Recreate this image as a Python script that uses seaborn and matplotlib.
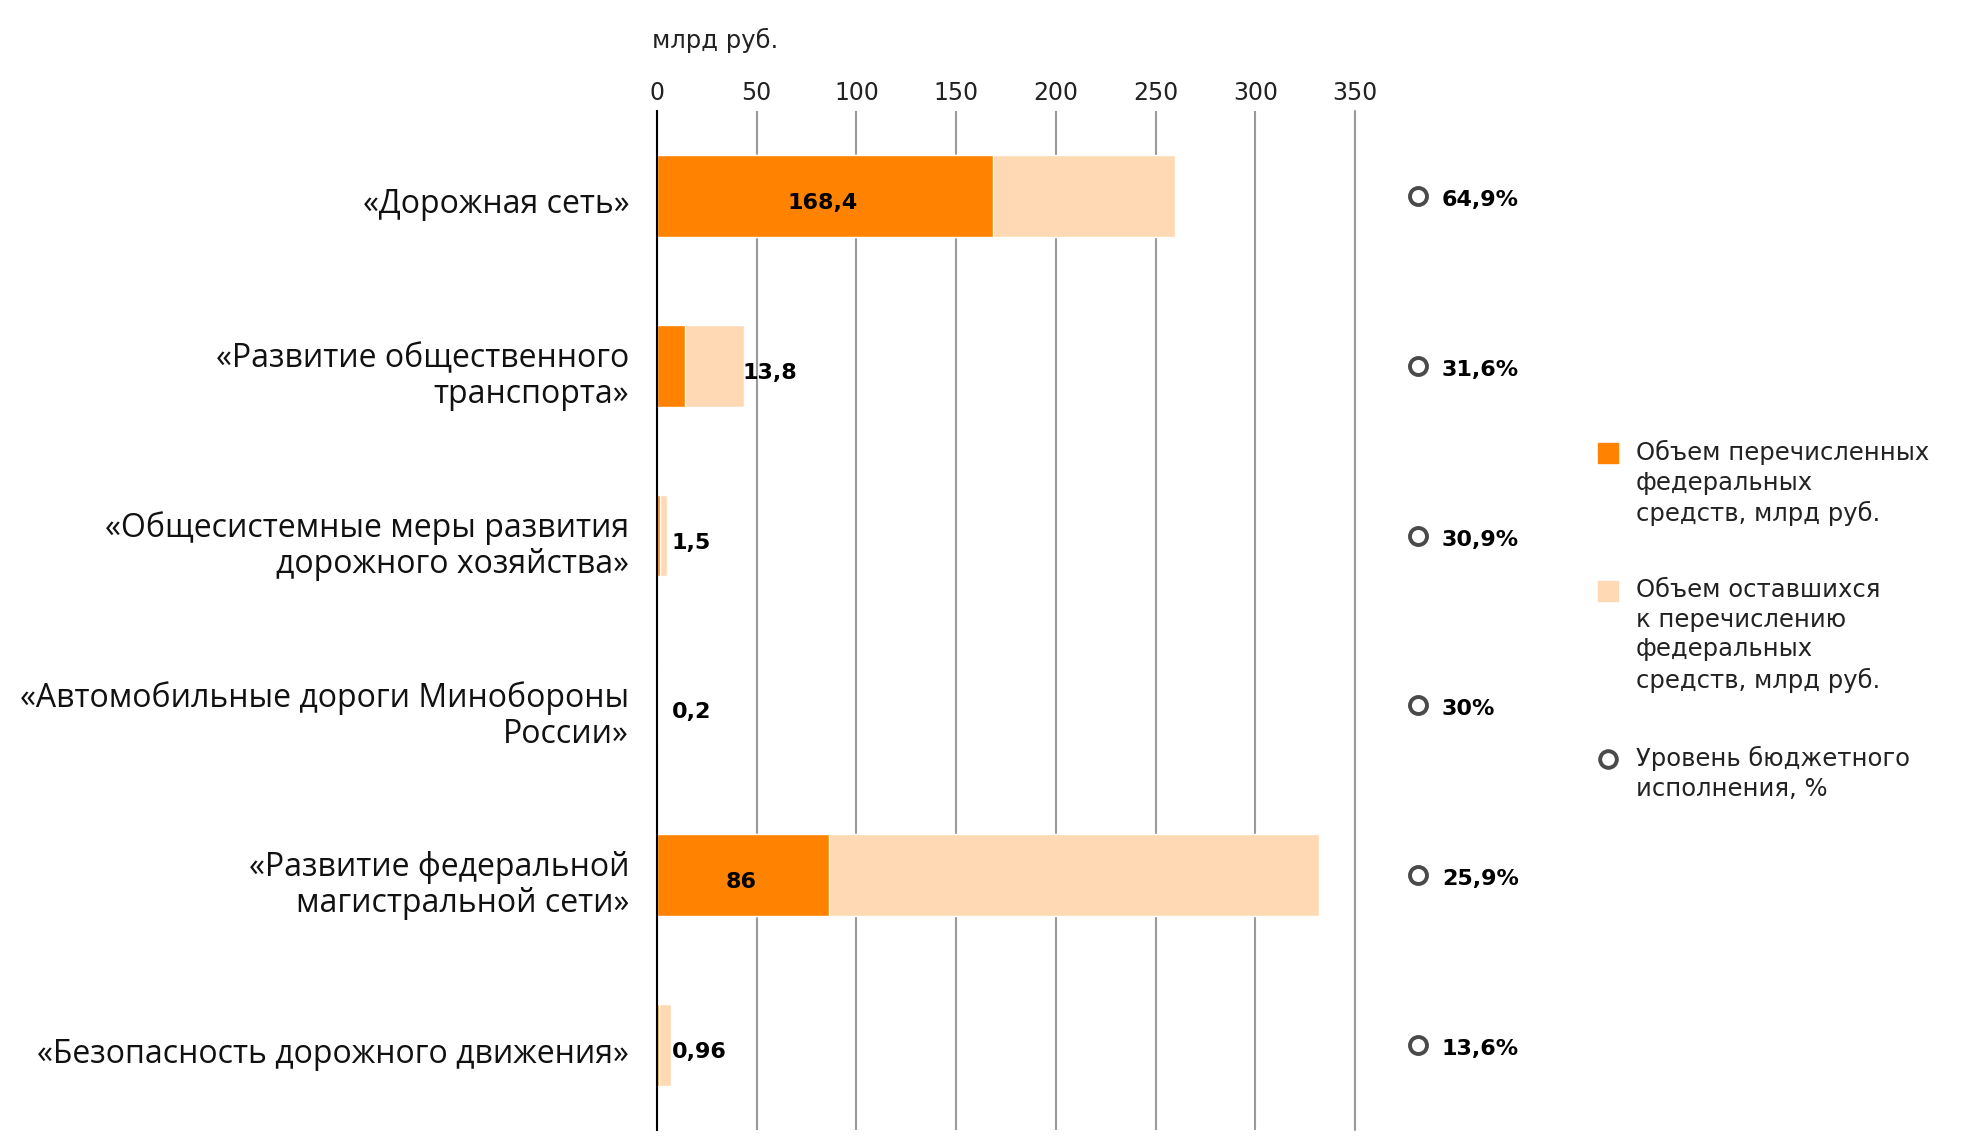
import pandas as pd
import matplotlib.pyplot as plt
import seaborn as sns
from matplotlib.patches import Rectangle
from matplotlib.lines import Line2D
from matplotlib.transforms import blended_transform_factory, ScaledTranslation

# Data
categories = [
    "«Дорожная сеть»",
    "«Развитие общественного\nтранспорта»",
    "«Общесистемные меры развития\nдорожного хозяйства»",
    "«Автомобильные дороги Минобороны\nРоссии»",
    "«Развитие федеральной\nмагистральной сети»",
    "«Безопасность дорожного движения»",
]
transferred = [168.4, 13.8, 1.5, 0.2, 86.0, 0.96]
total = [259.5, 43.7, 4.85, 0.67, 332.0, 7.06]
execution = [64.9, 31.6, 30.9, 30.0, 25.9, 13.6]
value_labels = ["168,4", "13,8", "1,5", "0,2", "86", "0,96"]
pct_labels = ["64,9%", "31,6%", "30,9%", "30%", "25,9%", "13,6%"]
x_ticks = [0, 50, 100, 150, 200, 250, 300, 350]

legend_labels = [
    "Объем перечисленных\nфедеральных\nсредств, млрд руб.",
    "Объем оставшихся\nк перечислению\nфедеральных\nсредств, млрд руб.",
    "Уровень бюджетного\nисполнения, %",
]

ORANGE = "#ff8300"
LIGHT = "#ffd9b3"
RING = "#4a4a4a"

df = pd.DataFrame({"category": categories, "transferred": transferred, "total": total})

sns.set_style("white")
plt.rcParams["font.family"] = ["DejaVu Sans"]

fig = plt.figure(figsize=(19.84, 11.46), dpi=100)
ax = fig.add_axes([657 / 1984, 16 / 1146, (1355 - 657) / 1984, (1130 - 111) / 1146])

sns.barplot(data=df, x="total", y="category", orient="h", color=LIGHT,
            width=0.48, saturation=1, ax=ax, zorder=2)
sns.barplot(data=df, x="transferred", y="category", orient="h", color=ORANGE,
            width=0.48, saturation=1, ax=ax, zorder=3)

ax.set_xlim(0, 350)
ax.set_ylim(5.5, -0.5)
ax.set_xlabel("")
ax.set_ylabel("")

# x axis on top
ax.xaxis.tick_top()
ax.set_xticks(x_ticks)
ax.set_xticklabels([str(t) for t in x_ticks])
ax.tick_params(axis="x", length=0, pad=4, labelsize=17, colors="#222222")
ax.tick_params(axis="y", length=0, pad=20)
ax.set_yticks(range(len(categories)))
ax.set_yticklabels(categories, fontsize=23, family="Open Sans", linespacing=1.12,
                   ha="right", color="#111111")
down = ScaledTranslation(0, -5 / 100, fig.dpi_scale_trans)
for lab in ax.get_yticklabels():
    lab.set_transform(lab.get_transform() + down)

ax.grid(axis="x", color="#9a9a9a", linewidth=1.5, zorder=0)
ax.grid(axis="y", visible=False)
ax.set_axisbelow(True)
for side in ["top", "right", "bottom"]:
    ax.spines[side].set_visible(False)
ax.spines["left"].set_color("black")
ax.spines["left"].set_linewidth(1.5)
ax.spines["left"].set_zorder(5)

# the last grid line sits on the axes edge
ax.axvline(350, color="#9a9a9a", linewidth=1.5, zorder=0, clip_on=False)

fig.text(652 / 1984, 1 - 40 / 1146, "млрд руб.", fontsize=17.5, color="#222222",
         ha="left", va="center")

# value labels
val_shift = ScaledTranslation(0, -7 / 100, fig.dpi_scale_trans)
for i, (t, tot, lab) in enumerate(zip(transferred, total, value_labels)):
    if t > 50:
        ax.text(t / 2 - 1, i, lab, ha="center", va="center", fontsize=16,
                fontweight="bold", color="black", zorder=6,
                transform=ax.transData + val_shift)
    else:
        ax.text(max(tot - 1, 7.5), i, lab, ha="left", va="center", fontsize=16,
                fontweight="bold", color="black", zorder=6,
                transform=ax.transData + val_shift)

# execution level markers
tr = blended_transform_factory(fig.transFigure, ax.transData)
ax.scatter([1418 / 1984] * len(execution), range(len(execution)), transform=tr,
           s=150, facecolor="white", edgecolor=RING, linewidth=2.8, clip_on=False, zorder=6)
pct_shift = ScaledTranslation(0, -4 / 100, fig.dpi_scale_trans)
for i, lab in enumerate(pct_labels):
    ax.text(1442 / 1984, i, lab, transform=tr + pct_shift, ha="left", va="center",
            fontsize=16, fontweight="bold", color="black", clip_on=False)

# legend, drawn by hand
leg_y = [453, 591, 759]
for k, (lab, y) in enumerate(zip(legend_labels, leg_y)):
    yf = 1 - y / 1146
    if k < 2:
        fig.patches.append(Rectangle((1598 / 1984, yf - 10 / 1146), 20 / 1984, 20 / 1146,
                                     transform=fig.transFigure,
                                     color=ORANGE if k == 0 else LIGHT))
    else:
        fig.add_artist(Line2D([1608 / 1984], [yf], marker="o", markersize=12,
                              markerfacecolor="white", markeredgecolor=RING,
                              markeredgewidth=2.8, transform=fig.transFigure))
    fig.text(1636 / 1984, yf + 13 / 1146, lab, ha="left", va="top", fontsize=17.5,
             linespacing=1.3, color="#222222")

fig.savefig("out.png", dpi=100)
